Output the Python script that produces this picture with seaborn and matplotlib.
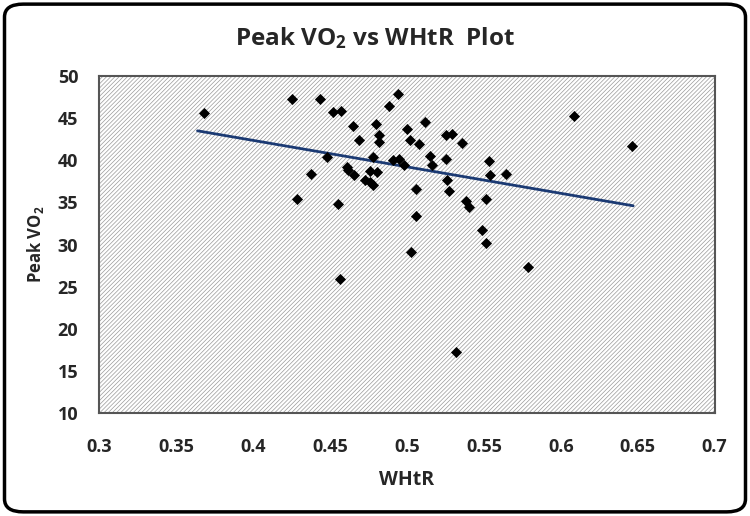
import numpy as np
import pandas as pd
import seaborn as sns
import matplotlib.pyplot as plt
from matplotlib.patches import FancyBboxPatch, Rectangle

# valeurs
whtr = [0.368, 0.4253, 0.4435, 0.4286, 0.438, 0.448, 0.452, 0.457, 0.455, 0.4565,
        0.4608, 0.4617, 0.465, 0.4656, 0.469, 0.4727, 0.476, 0.478, 0.476, 0.4807,
        0.478, 0.480, 0.482, 0.482, 0.4885, 0.494, 0.491, 0.495, 0.498, 0.4998,
        0.502, 0.5024, 0.5058, 0.5058, 0.5078, 0.5117, 0.515, 0.5166, 0.5253, 0.5257,
        0.5296, 0.526, 0.5275, 0.532, 0.5355, 0.5383, 0.5405, 0.5485, 0.5517, 0.5517,
        0.5535, 0.554, 0.5641, 0.579, 0.6087, 0.6463]
peak_vo2 = [45.6, 47.3, 47.3, 35.4, 38.4, 40.4, 45.7, 45.8, 34.8, 25.9,
            39.2, 38.8, 44.1, 38.2, 42.4, 37.7, 37.4, 37.1, 38.7, 38.6,
            40.4, 44.3, 43.0, 42.2, 46.4, 47.9, 40.0, 40.2, 39.4, 43.7,
            42.4, 29.1, 36.6, 33.4, 41.9, 44.5, 40.5, 39.4, 40.1, 43.0,
            43.1, 37.7, 36.35, 17.2, 42.0, 35.2, 34.4, 31.7, 30.2, 35.4,
            39.9, 38.25, 38.4, 27.3, 45.2, 41.7]

# droite de tendance (extrémités lues)
trend_x = [0.364, 0.647]
trend_y = [43.5, 34.6]

x_ticks = [0.3, 0.35, 0.4, 0.45, 0.5, 0.55, 0.6, 0.65, 0.7]
x_labels = ["0.3", "0.35", "0.4", "0.45", "0.5", "0.55", "0.6", "0.65", "0.7"]
y_ticks = [10, 15, 20, 25, 30, 35, 40, 45, 50]

df = pd.DataFrame({"WHtR": whtr, "PeakVO2": peak_vo2})
df_trend = pd.DataFrame({"WHtR": trend_x, "PeakVO2": trend_y})

sns.set_style("white")
police = 'Open Sans'
plt.rcParams['font.family'] = [police, 'DejaVu Sans']
plt.rcParams['font.weight'] = 'bold'
plt.rcParams['mathtext.fontset'] = 'custom'
plt.rcParams['mathtext.rm'] = police + ':bold'
plt.rcParams['mathtext.it'] = police + ':bold'
plt.rcParams['mathtext.default'] = 'rm'
plt.rcParams['hatch.linewidth'] = 0.5
plt.rcParams['hatch.color'] = '#999999'

fig = plt.figure(figsize=(7.5, 5.16), dpi=100)
ax = fig.add_axes([0.132, 0.1996, 0.821, 0.653])

# fond hachuré
ax.add_patch(Rectangle((0, 0), 1, 1, transform=ax.transAxes, facecolor='white',
                       edgecolor='#999999', hatch='/' * 8, linewidth=0,
                       zorder=0))

sns.lineplot(data=df_trend, x="WHtR", y="PeakVO2", ax=ax, color='#1b3a73',
             lw=2, zorder=2)
sns.scatterplot(data=df, x="WHtR", y="PeakVO2", ax=ax, marker='D', s=32,
                color='black', edgecolor='black', linewidth=0, zorder=3)

ax.set_xlim(0.3, 0.7)
ax.set_ylim(10, 50)
ax.set_xticks(x_ticks)
ax.set_xticklabels(x_labels)
ax.set_yticks(y_ticks)
ax.tick_params(axis='both', direction='out', length=5, width=1, color='#888888',
               labelsize=13, pad=10)
ax.tick_params(axis='x', pad=13)
for lab in ax.get_xticklabels() + ax.get_yticklabels():
    lab.set_fontweight('bold')

for sp in ax.spines.values():
    sp.set_color('#555555')
    sp.set_linewidth(1.5)

ax.set_xlabel("WHtR", fontsize=14, fontweight='bold', labelpad=10)
ax.set_ylabel(r"Peak VO$_2$", fontsize=12, fontweight='bold', labelpad=8)
fig.text(0.5, 0.927, r"Peak VO$_2$ vs WHtR  Plot", ha='center', va='center',
         fontsize=17.5, fontweight='bold')

# cadre arrondi du graphique
cadre = FancyBboxPatch((0.006, 0.008), 0.988, 0.984,
                       boxstyle="round,pad=0,rounding_size=0.025",
                       transform=fig.transFigure, fill=False,
                       edgecolor='black', linewidth=2.5)
fig.patches.append(cadre)

plt.savefig('out.png', dpi=100)
